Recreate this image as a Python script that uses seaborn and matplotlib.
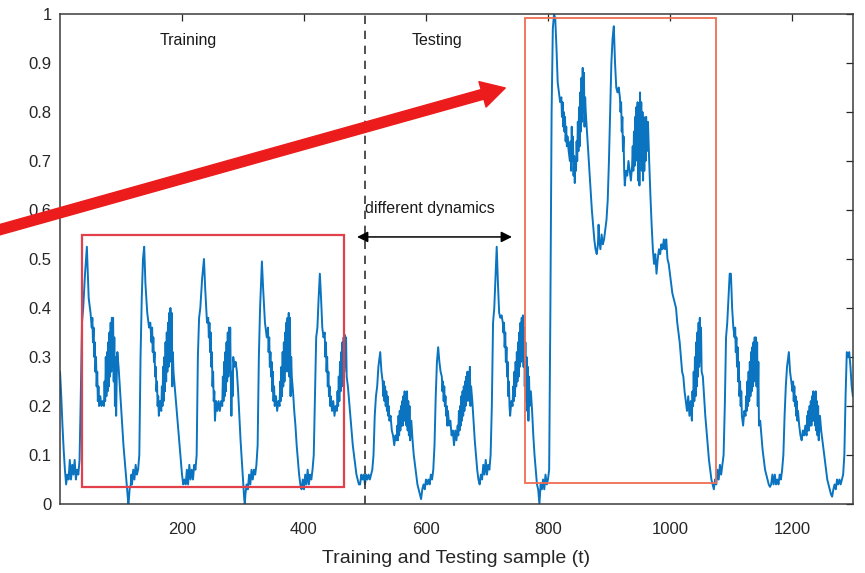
import matplotlib
matplotlib.use("Agg")
import matplotlib.pyplot as plt
from matplotlib.patches import Rectangle
import seaborn as sns

# ---- data ----------------------------------------------------------------
sample_t = [
    0, 2, 4, 6, 8, 10, 12, 14, 16, 18, 20, 22, 24, 26, 28, 30, 32, 34, 36, 38, 41, 44,
    47, 50, 52, 53, 54, 55, 56, 57, 58, 59, 60, 61, 62, 63, 64, 66, 68, 70, 72, 73, 74, 75, 76, 77, 78, 79,
    80, 81, 82, 83, 84, 85, 86, 87, 88, 89, 90, 91, 92, 93, 94, 96, 98, 100, 102, 104, 106, 108, 110, 112,
    113, 114, 116, 117, 118, 120, 122, 124, 126, 128, 130, 132, 134, 136, 138,
    140, 143, 146, 148, 150, 151, 152, 153, 154, 155, 156, 157, 158, 159, 160, 161, 162, 164, 166, 167,
    168, 169, 170, 171, 172, 173, 174, 175, 176, 177, 178, 179, 180, 181, 182, 183, 184, 185, 186, 188,
    190, 192, 194, 196, 198, 200, 202, 204, 206, 208, 210, 212, 214, 216, 218, 220, 222, 224, 226, 228,
    230, 233, 236,
    238, 241, 243, 244, 245, 246, 247, 248, 249, 250, 251, 252, 253, 254, 256, 258, 260, 262, 264, 266,
    267, 268, 269, 270, 271, 272, 273, 274, 275, 276, 277, 278, 279, 280, 281, 282, 283, 284, 286, 288,
    290, 292, 294, 296, 298, 300, 302, 303, 304, 306, 308, 310, 312, 314, 316, 318, 320, 322, 324, 326,
    328, 331,
    333, 336, 339, 341, 342, 343, 344, 345, 346, 347, 348, 349, 350, 351, 352, 354, 356, 358, 360, 361,
    362, 363, 364, 365, 366, 367, 368, 369, 370, 371, 372, 373, 374, 375, 376, 377, 378, 379, 380, 382,
    384, 386, 388, 390, 392, 394, 396, 398, 400, 402, 404, 406, 408, 410, 412, 414, 416, 418, 420, 422,
    424, 426,
    428, 430, 432, 434, 435, 436, 437, 438, 439, 440, 441, 442, 443, 444, 446, 448, 450, 452, 454, 455,
    456, 457, 458, 459, 460, 461, 462, 463, 464, 465, 466, 467, 468, 469, 470, 472, 474, 476, 478, 480,
    482, 484, 486, 488, 490, 492, 494, 496, 498, 500, 502, 504, 506, 508, 510, 512, 514, 516, 518, 520,
    522, 525,
    527, 529, 530, 531, 532, 533, 534, 535, 536, 537, 538, 539, 540, 542, 544, 546, 548, 550, 552, 553,
    554, 555, 556, 557, 558, 559, 560, 561, 562, 563, 564, 565, 566, 567, 568, 569, 570, 571, 572, 573,
    574, 576, 578, 580, 582, 584, 586, 588, 590, 592, 594, 596, 598, 600, 602, 604, 606, 608, 610, 612,
    614, 616, 618, 620,
    622, 624, 626, 627, 628, 629, 630, 631, 632, 633, 634, 635, 636, 638, 640, 642, 644, 646, 648, 650,
    652, 653, 654, 655, 656, 657, 658, 659, 660, 661, 662, 663, 664, 665, 666, 667, 668, 669, 670, 671,
    672, 673, 674, 676, 678, 680, 682, 684, 686, 688, 690, 692, 694, 696, 698, 700, 702, 704, 706, 708,
    710, 712, 714, 716,
    718, 720, 722, 724, 726, 727, 728, 729, 730, 731, 732, 733, 734, 735, 736, 737, 738, 740, 742, 743,
    744, 745, 746, 747, 748, 749, 750, 751, 752, 753, 754, 755, 756, 757, 758, 759, 760, 761, 762, 763,
    764, 765, 766, 767, 768, 769, 770, 772, 774, 776, 778, 780, 782, 784, 786, 787, 788, 790, 792, 794,
    796, 798, 800, 802, 804, 806, 808, 810, 812,
    814, 816, 818, 820, 822, 823, 824, 825, 826, 827, 828, 829, 830, 831, 832, 834, 836, 837, 838, 839,
    840, 841, 842, 843, 844, 845, 846, 847, 848, 849, 850, 851, 852, 853, 854, 855, 856, 857, 858, 859,
    860, 861, 862, 864, 866, 868, 870, 872, 874, 876, 878, 880, 882, 883, 884, 886, 888, 890, 892, 894,
    896, 898, 900, 902, 904, 906, 908,
    910, 912, 914, 916, 918, 919, 920, 921, 922, 923, 924, 925, 926, 928, 930, 932, 934, 936, 938, 939,
    940, 941, 942, 943, 944, 945, 946, 947, 948, 949, 950, 951, 952, 953, 954, 955, 956, 957, 958, 959,
    960, 961, 962, 964, 966, 968, 970, 972, 974, 976, 978, 980, 982, 984, 986, 988, 990, 992, 994, 996,
    998, 1000, 1002, 1004, 1006, 1008, 1010, 1012, 1014, 1016, 1018, 1020, 1022, 1024, 1026, 1028, 1030,
    1032, 1034, 1036, 1037, 1038, 1039, 1040, 1041, 1042, 1043, 1044, 1045, 1046, 1047, 1048, 1049, 1050,
    1051, 1052, 1054, 1056, 1058, 1060, 1062, 1064, 1066, 1068, 1070, 1072,
    1074, 1076, 1078, 1080, 1082, 1084, 1086, 1088, 1090, 1092, 1094, 1096, 1098, 1100, 1102, 1104, 1106,
    1107, 1108, 1109, 1110, 1111, 1112, 1113, 1114, 1115, 1116, 1117, 1118, 1120, 1122, 1124, 1125, 1126,
    1127, 1128, 1129, 1130, 1131, 1132, 1133, 1134, 1135, 1136, 1137, 1138, 1139, 1140, 1141, 1142, 1143,
    1144, 1145, 1146, 1148, 1150, 1152, 1154, 1156, 1158, 1160, 1162, 1164, 1166, 1168, 1170, 1172, 1174,
    1176, 1178, 1180, 1182, 1184, 1186, 1188, 1190, 1192, 1195,
    1197, 1199, 1201, 1202, 1203, 1204, 1205, 1206, 1207, 1208, 1209, 1210, 1212, 1214, 1216, 1218, 1220,
    1222, 1224, 1225, 1226, 1227, 1228, 1229, 1230, 1231, 1232, 1233, 1234, 1235, 1236, 1237, 1238, 1239,
    1240, 1241, 1242, 1243, 1244, 1246, 1248, 1250, 1252, 1254, 1256, 1258, 1260, 1262, 1264, 1266, 1268,
    1270, 1272, 1274, 1276, 1278, 1280, 1282, 1284, 1286, 1288, 1290, 1292, 1294, 1296, 1298, 1300,
]

sample_y = [
    0.27, 0.22, 0.16, 0.11, 0.07, 0.04, 0.06, 0.05, 0.09, 0.05, 0.08, 0.06, 0.09, 0.05, 0.07, 0.06, 0.09, 0.22, 0.37, 0.40, 0.47, 0.525,
    0.42, 0.39, 0.36, 0.38, 0.33, 0.36, 0.30, 0.33, 0.27, 0.30, 0.24, 0.27, 0.21, 0.24, 0.20, 0.22, 0.20, 0.21, 0.20, 0.25, 0.21, 0.30, 0.22, 0.31, 0.23, 0.33,
    0.24, 0.35, 0.26, 0.37, 0.27, 0.38, 0.28, 0.38, 0.25, 0.34, 0.20, 0.30, 0.18, 0.26, 0.31, 0.28, 0.24, 0.20, 0.16, 0.12, 0.09, 0.06, 0.03, 0.00,
    0.01, 0.03, 0.04, 0.06, 0.04, 0.07, 0.05, 0.08, 0.06, 0.07, 0.10, 0.30, 0.42, 0.50, 0.525,
    0.45, 0.39, 0.36, 0.37, 0.33, 0.36, 0.31, 0.34, 0.29, 0.31, 0.26, 0.28, 0.23, 0.25, 0.20, 0.22, 0.18, 0.21, 0.19, 0.24,
    0.20, 0.28, 0.21, 0.30, 0.23, 0.33, 0.25, 0.35, 0.27, 0.37, 0.28, 0.39, 0.30, 0.40, 0.29, 0.39, 0.24, 0.31, 0.27, 0.24,
    0.21, 0.18, 0.15, 0.12, 0.09, 0.06, 0.04, 0.05, 0.04, 0.07, 0.04, 0.08, 0.05, 0.07, 0.05, 0.08, 0.07, 0.10, 0.30, 0.38,
    0.40, 0.46, 0.50,
    0.44, 0.37, 0.38, 0.34, 0.37, 0.31, 0.35, 0.28, 0.31, 0.24, 0.27, 0.21, 0.23, 0.17, 0.21, 0.19, 0.21, 0.19, 0.21, 0.20,
    0.26, 0.21, 0.29, 0.22, 0.31, 0.23, 0.33, 0.25, 0.35, 0.26, 0.36, 0.27, 0.36, 0.26, 0.18, 0.27, 0.22, 0.30, 0.28, 0.29,
    0.27, 0.23, 0.18, 0.13, 0.09, 0.05, 0.01, 0.00, 0.02, 0.04, 0.03, 0.06, 0.04, 0.07, 0.05, 0.07, 0.06, 0.08, 0.12, 0.30,
    0.40, 0.495,
    0.44, 0.37, 0.34, 0.36, 0.31, 0.34, 0.28, 0.31, 0.26, 0.29, 0.23, 0.27, 0.21, 0.24, 0.20, 0.22, 0.19, 0.21, 0.20, 0.25,
    0.21, 0.28, 0.22, 0.31, 0.24, 0.33, 0.25, 0.35, 0.27, 0.37, 0.28, 0.38, 0.27, 0.39, 0.26, 0.38, 0.22, 0.30, 0.26, 0.23,
    0.19, 0.16, 0.12, 0.09, 0.06, 0.04, 0.03, 0.05, 0.03, 0.06, 0.04, 0.07, 0.04, 0.06, 0.05, 0.07, 0.10, 0.22, 0.34, 0.36,
    0.42, 0.47,
    0.42, 0.36, 0.34, 0.35, 0.30, 0.33, 0.27, 0.30, 0.24, 0.27, 0.22, 0.24, 0.20, 0.22, 0.19, 0.21, 0.18, 0.20, 0.19, 0.23,
    0.20, 0.26, 0.21, 0.29, 0.23, 0.31, 0.24, 0.33, 0.25, 0.34, 0.27, 0.345, 0.28, 0.34, 0.26, 0.24, 0.21, 0.18, 0.15, 0.12,
    0.10, 0.08, 0.06, 0.05, 0.04, 0.04, 0.06, 0.05, 0.06, 0.04, 0.06, 0.05, 0.06, 0.05, 0.06, 0.07, 0.10, 0.18, 0.22, 0.24,
    0.28, 0.31,
    0.27, 0.25, 0.22, 0.25, 0.21, 0.24, 0.20, 0.23, 0.19, 0.22, 0.18, 0.20, 0.17, 0.18, 0.15, 0.14, 0.12, 0.14, 0.13, 0.16,
    0.13, 0.18, 0.14, 0.19, 0.15, 0.20, 0.16, 0.21, 0.16, 0.22, 0.17, 0.23, 0.17, 0.22, 0.16, 0.23, 0.15, 0.21, 0.14, 0.20,
    0.13, 0.17, 0.13, 0.10, 0.08, 0.06, 0.04, 0.03, 0.02, 0.01, 0.03, 0.04, 0.03, 0.05, 0.04, 0.05, 0.04, 0.06, 0.05, 0.07,
    0.12, 0.22, 0.29, 0.32,
    0.29, 0.27, 0.26, 0.23, 0.25, 0.21, 0.24, 0.20, 0.22, 0.18, 0.20, 0.16, 0.19, 0.16, 0.17, 0.14, 0.15, 0.12, 0.15, 0.13,
    0.16, 0.14, 0.19, 0.15, 0.20, 0.16, 0.22, 0.17, 0.23, 0.18, 0.24, 0.19, 0.25, 0.20, 0.26, 0.21, 0.27, 0.22, 0.27, 0.21,
    0.28, 0.20, 0.24, 0.21, 0.17, 0.13, 0.10, 0.07, 0.05, 0.04, 0.06, 0.05, 0.08, 0.06, 0.09, 0.06, 0.08, 0.07, 0.10, 0.20,
    0.37, 0.40, 0.46, 0.525,
    0.45, 0.39, 0.38, 0.385, 0.37, 0.35, 0.37, 0.32, 0.35, 0.29, 0.32, 0.26, 0.29, 0.22, 0.25, 0.20, 0.18, 0.21, 0.20, 0.24,
    0.21, 0.27, 0.22, 0.29, 0.24, 0.31, 0.25, 0.33, 0.26, 0.35, 0.28, 0.37, 0.29, 0.38, 0.30, 0.385, 0.28, 0.36, 0.24, 0.33,
    0.21, 0.30, 0.19, 0.28, 0.17, 0.26, 0.20, 0.23, 0.19, 0.14, 0.10, 0.07, 0.04, 0.03, 0.00, 0.02, 0.04, 0.03, 0.05, 0.03,
    0.06, 0.04, 0.05, 0.07, 0.40, 0.80, 0.97, 1.00, 0.99,
    0.93, 0.86, 0.84, 0.82, 0.83, 0.79, 0.82, 0.77, 0.80, 0.76, 0.79, 0.74, 0.77, 0.73, 0.75, 0.72, 0.70, 0.74, 0.68, 0.77,
    0.70, 0.75, 0.67, 0.71, 0.655, 0.70, 0.68, 0.74, 0.70, 0.78, 0.72, 0.81, 0.73, 0.84, 0.76, 0.87, 0.78, 0.89, 0.80, 0.88,
    0.77, 0.83, 0.80, 0.76, 0.72, 0.68, 0.64, 0.60, 0.57, 0.54, 0.52, 0.51, 0.53, 0.57, 0.54, 0.52, 0.55, 0.53, 0.54, 0.56,
    0.58, 0.62, 0.70, 0.80, 0.90, 0.95, 0.975,
    0.90, 0.85, 0.84, 0.85, 0.83, 0.80, 0.82, 0.76, 0.79, 0.72, 0.75, 0.68, 0.65, 0.68, 0.67, 0.70, 0.68, 0.66, 0.69, 0.73,
    0.68, 0.76, 0.69, 0.79, 0.70, 0.81, 0.72, 0.82, 0.66, 0.80, 0.65, 0.84, 0.70, 0.82, 0.68, 0.80, 0.66, 0.79, 0.68, 0.78,
    0.70, 0.79, 0.72, 0.78, 0.70, 0.63, 0.57, 0.52, 0.49, 0.51, 0.47, 0.50, 0.52, 0.51, 0.53, 0.52, 0.54, 0.52, 0.54, 0.50,
    0.49, 0.47, 0.45, 0.43, 0.42, 0.41, 0.40, 0.37, 0.35, 0.33, 0.30, 0.27, 0.26, 0.23, 0.21, 0.19, 0.22,
    0.18, 0.21, 0.17, 0.23, 0.20, 0.27, 0.21, 0.30, 0.22, 0.33, 0.24, 0.35, 0.26, 0.37, 0.28, 0.38, 0.29,
    0.36, 0.27, 0.26, 0.22, 0.18, 0.15, 0.12, 0.09, 0.07, 0.05, 0.04, 0.03,
    0.05, 0.04, 0.07, 0.05, 0.08, 0.06, 0.08, 0.10, 0.20, 0.34, 0.37, 0.42, 0.47, 0.47, 0.40, 0.36, 0.34,
    0.36, 0.31, 0.34, 0.28, 0.32, 0.25, 0.29, 0.22, 0.25, 0.20, 0.23, 0.18, 0.16, 0.19, 0.18, 0.22, 0.19,
    0.25, 0.20, 0.27, 0.21, 0.29, 0.22, 0.31, 0.23, 0.32, 0.24, 0.33, 0.25, 0.34, 0.26, 0.34, 0.24, 0.33,
    0.20, 0.29, 0.16, 0.17, 0.14, 0.11, 0.09, 0.07, 0.06, 0.05, 0.04, 0.035, 0.04, 0.06, 0.04, 0.06, 0.04,
    0.05, 0.04, 0.06, 0.05, 0.07, 0.10, 0.18, 0.24, 0.28, 0.31,
    0.27, 0.25, 0.23, 0.25, 0.21, 0.24, 0.20, 0.22, 0.18, 0.21, 0.17, 0.19, 0.16, 0.14, 0.13, 0.15, 0.14,
    0.16, 0.14, 0.18, 0.15, 0.19, 0.15, 0.20, 0.16, 0.21, 0.16, 0.22, 0.17, 0.23, 0.17, 0.22, 0.16, 0.23,
    0.15, 0.21, 0.14, 0.20, 0.13, 0.18, 0.15, 0.13, 0.11, 0.09, 0.07, 0.05, 0.04, 0.03, 0.02, 0.015, 0.03,
    0.04, 0.03, 0.05, 0.04, 0.05, 0.04, 0.05, 0.06, 0.10, 0.22, 0.31, 0.30, 0.31, 0.28, 0.24, 0.22,
]

y_ticks = [0, 0.1, 0.2, 0.3, 0.4, 0.5, 0.6, 0.7, 0.8, 0.9, 1]
y_tick_labels = ["0", "0.1", "0.2", "0.3", "0.4", "0.5", "0.6", "0.7", "0.8", "0.9", "1"]
x_ticks = [200, 400, 600, 800, 1000, 1200]

split_t = 500
train_box = [36, 466, 0.034, 0.548]   # t0, t1, y0, y1
test_box = [762, 1075, 0.042, 0.992]
gap_arrow = [487, 741, 0.545]

# ---- plotting --------------------------------------------------------------
sns.set_style("white")
plt.rcParams["font.family"] = ["Liberation Sans", "DejaVu Sans"]

fig = plt.figure(figsize=(8.65, 5.73), dpi=100)
ax = fig.add_axes([0.0694, 0.1204, 0.9166, 0.8552])

sns.lineplot(x=sample_t, y=sample_y, ax=ax, color="#0a74c0", linewidth=1.4,
             estimator=None, sort=False)

ax.set_xlim(0, 1300)
ax.set_ylim(0, 1)
ax.set_xticks(x_ticks)
ax.set_xticklabels([str(v) for v in x_ticks])
ax.set_yticks(y_ticks)
ax.set_yticklabels(y_tick_labels)
ax.tick_params(direction="in", length=5, width=0.9, top=True, right=True,
               labelsize=12, colors="#262626", pad=6)
ax.tick_params(axis="x", pad=13)
for s in ax.spines.values():
    s.set_color("#3c3c3c")
    s.set_linewidth(1.1)
ax.set_xlabel("Training and Testing sample (t)", fontsize=14, color="#262626", labelpad=9)
ax.set_ylabel("")

ax.axvline(split_t, color="#333333", linestyle=(0, (5, 4)), linewidth=1.2)

ax.add_patch(Rectangle((train_box[0], train_box[2]), train_box[1] - train_box[0],
                       train_box[3] - train_box[2], fill=False,
                       edgecolor="#e2404a", linewidth=1.6, zorder=4))
ax.add_patch(Rectangle((test_box[0], test_box[2]), test_box[1] - test_box[0],
                       test_box[3] - test_box[2], fill=False,
                       edgecolor="#ef6d52", linewidth=1.3, zorder=4))

ax.text(210, 0.945, "Training", ha="center", va="center", fontsize=11.5, color="#1a1a1a")
ax.text(618, 0.945, "Testing", ha="center", va="center", fontsize=11.5, color="#1a1a1a")
ax.text(607, 0.604, "different dynamics", ha="center", va="center", fontsize=11.5, color="#1a1a1a")

ax.annotate("", xy=(gap_arrow[1], gap_arrow[2]), xytext=(gap_arrow[0], gap_arrow[2]),
            arrowprops=dict(arrowstyle="<|-|>", color="black", lw=1.1,
                            mutation_scale=16, shrinkA=0, shrinkB=0))

# big red pointer, starting off the left edge of the figure
ax.annotate("", xy=(730, 0.849), xycoords="data",
            xytext=(-0.01, 0.595), textcoords="figure fraction",
            arrowprops=dict(arrowstyle="simple,head_length=0.85,head_width=0.95,tail_width=0.36",
                            color="#ec1c1c", mutation_scale=20, shrinkA=0, shrinkB=0),
            annotation_clip=False, zorder=10)

fig.savefig("out.png", dpi=100)
